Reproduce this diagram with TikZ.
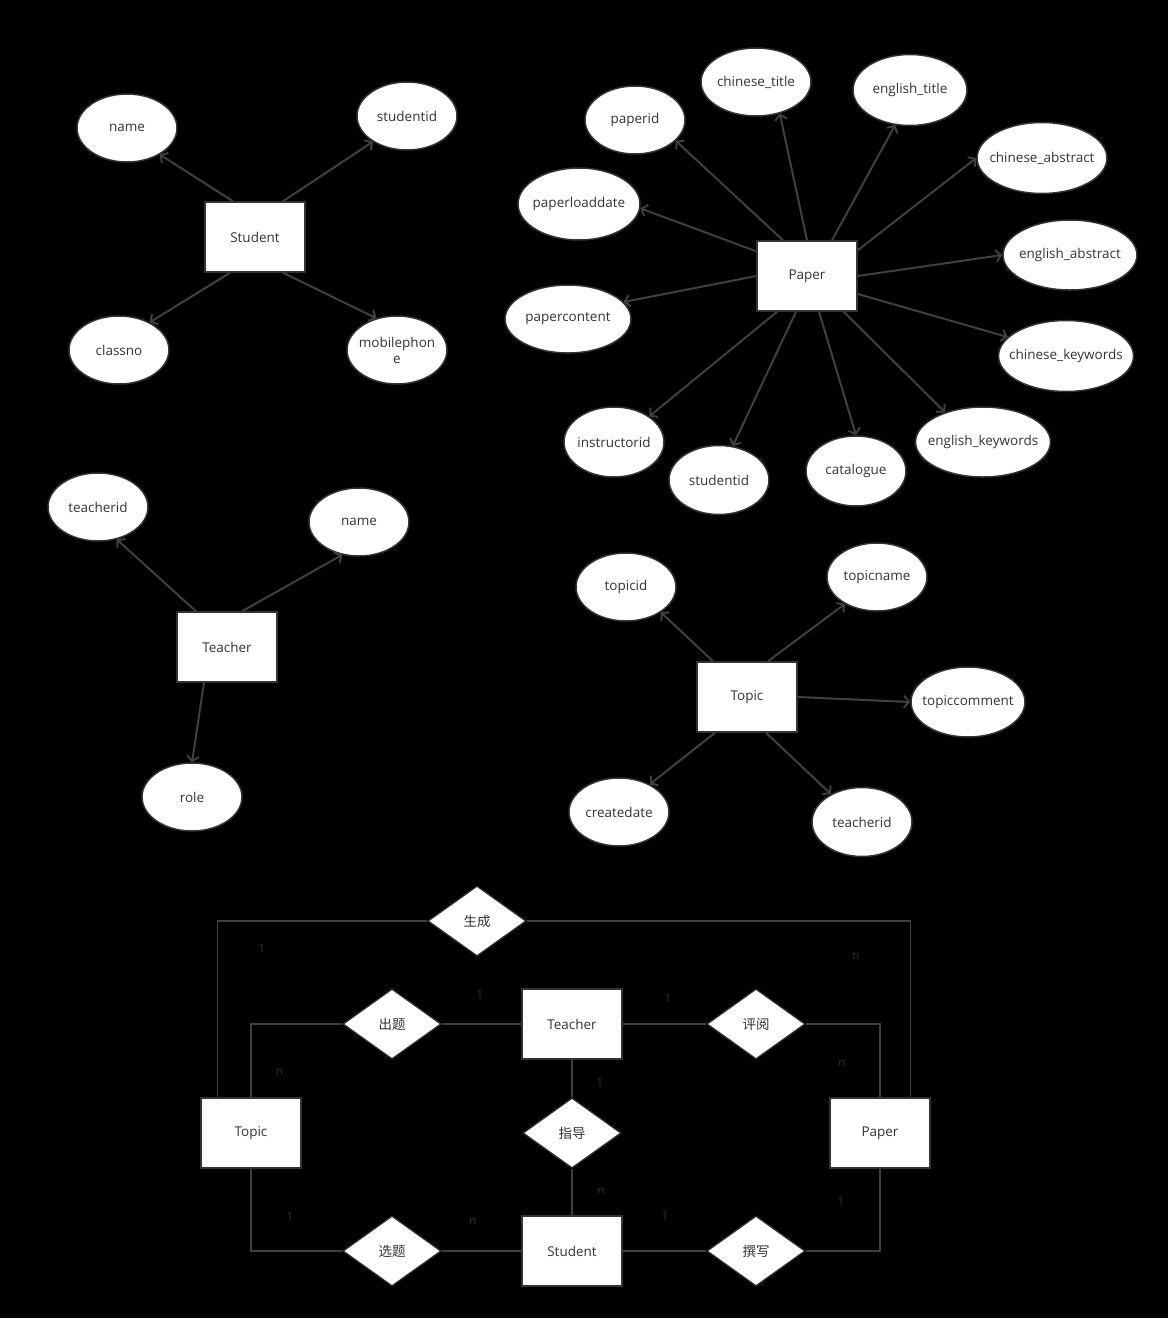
\documentclass[tikz,border=0pt]{standalone}
\usepackage{fontspec}
\setmainfont{Open Sans}
\newfontfamily\cjk{Noto Sans CJK SC}
\usetikzlibrary{shapes.geometric,arrows.meta,positioning}
\definecolor{edgegray}{HTML}{404040}
\definecolor{txtgray}{HTML}{333333}
\begin{document}
\begin{tikzpicture}[x=1pt,y=-1pt,
    ent/.style = {draw=txtgray, line width=1.5pt, fill=white, minimum width=100pt, minimum height=70pt, text=txtgray, font=\fontsize{13.5}{16}\selectfont},
    attr/.style = {ellipse, draw=txtgray, line width=1.5pt, fill=white, minimum width=100pt, minimum height=68pt, inner xsep=-30pt, inner ysep=0pt, align=center, text=txtgray, font=\fontsize{13.5}{16}\selectfont},
    rel/.style = {diamond, draw=txtgray, line width=1.2pt, fill=white, minimum width=98pt, minimum height=70pt, inner sep=0pt, text=txtgray, font=\cjk\fontsize{13.5}{16}\selectfont},
    arr/.style = {draw=edgegray, line width=2pt, -{Straight Barb[length=5pt,width=12pt]}},
    link/.style = {draw=edgegray, line width=1.2pt},
    card/.style = {text=txtgray, font=\fontsize{11.5}{13}\selectfont, inner sep=0pt}]
  \fill[black] (0,0) rectangle (1168,1318);
  \useasboundingbox (0,0) rectangle (1168,1318);

  % Student
  \node[ent] (S) at (255,237) {Student};
  \node[attr] (Sname) at (127,128) {name};
  \node[attr] (Sid) at (407,116) {studentid};
  \node[attr] (Scls) at (119,350) {classno};
  \node[attr] (Smob) at (397,350) {mobilephon\\e};
  \draw[arr] ([xshift=-22pt]S.north) -- (Sname.-39);
  \draw[arr] ([xshift=28pt]S.north) -- (Sid.-143);
  \draw[arr] ([xshift=-25pt]S.south) -- (Scls.42);
  \draw[arr] ([xshift=28pt]S.south) -- (Smob.123);

  % Paper
  \node[ent] (P) at (807,276) {Paper};
  \node[attr] (Pid) at (635,120) {paperid};
  \node[attr, minimum width=110pt] (Pct) at (756,82) {chinese\_title};
  \node[attr, minimum width=114pt, minimum height=71pt] (Pet) at (910,90) {english\_title};
  \node[attr, minimum width=130pt, minimum height=71pt] (Pca) at (1042,158) {chinese\_abstract};
  \node[attr, minimum width=134pt, minimum height=70pt] (Pea) at (1070,255) {english\_abstract};
  \node[attr, minimum width=135pt, minimum height=71pt] (Pck) at (1066,356) {chinese\_keywords};
  \node[attr, minimum width=135pt, minimum height=70pt] (Pek) at (983,442) {english\_keywords};
  \node[attr, minimum height=70pt] (Pcat) at (856,471) {catalogue};
  \node[attr, minimum height=69pt] (Psid) at (719,480) {studentid};
  \node[attr, minimum height=70pt] (Pins) at (614,442) {instructorid};
  \node[attr, minimum width=126pt] (Pcon) at (568,319) {papercontent};
  \node[attr, minimum width=122pt, minimum height=72pt] (Pload) at (579,204) {paperloaddate};
  \draw[arr] ([xshift=-24pt]P.north) -- (Pid.-27);
  \draw[arr] (P.north) -- (Pct.-53);
  \draw[arr] ([xshift=25pt]P.north) -- (Pet.-113);
  \draw[arr] ([yshift=-10pt]P.north east) -- (Pca.west);
  \draw[arr] (P.east) -- (Pea.west);
  \draw[arr] ([yshift=-18pt]P.east) -- (Pck.162);
  \draw[arr] ([xshift=-14pt]P.south east) -- (Pek.142);
  \draw[arr] ([xshift=12pt]P.south) -- (Pcat.north);
  \draw[arr] ([xshift=-11pt]P.south) -- (Psid.68);
  \draw[arr] ([xshift=-30pt]P.south) -- (Pins.36);
  \draw[arr] (P.west) -- (Pcon.17);
  \draw[arr] ([yshift=-11pt]P.north west) -- (Pload.-4);

  % Teacher
  \node[ent] (T) at (227,647) {Teacher};
  \node[attr] (Tid) at (98,507) {teacherid};
  \node[attr] (Tname) at (359,522) {name};
  \node[attr] (Trole) at (192,797) {role};
  \draw[arr] ([xshift=-31pt]T.north) -- (Tid.-60);
  \draw[arr] ([xshift=15pt]T.north) -- (Tname.-117);
  \draw[arr] ([xshift=-23pt]T.south) -- (Trole.north);

  % Topic
  \node[ent] (Tp) at (747,697) {Topic};
  \node[attr] (Tpid) at (626,587) {topicid};
  \node[attr] (Tpname) at (877,577) {topicname};
  \node[attr, minimum width=114pt, minimum height=70pt] (Tpcom) at (968,702) {topiccomment};
  \node[attr] (Tpdate) at (619,812) {createdate};
  \node[attr, minimum height=69pt] (Tptid) at (862,822) {teacherid};
  \draw[arr] ([xshift=-34pt]Tp.north) -- (Tpid.-36);
  \draw[arr] ([xshift=21pt]Tp.north) -- (Tpname.-140);
  \draw[arr] (Tp.east) -- (Tpcom.west);
  \draw[arr] ([xshift=-32pt]Tp.south) -- (Tpdate.42);
  \draw[arr] ([xshift=19pt]Tp.south) -- (Tptid.138);

  % relations
  \node[ent] (T2) at (572,1024) {Teacher};
  \node[ent] (S2) at (572,1251) {Student};
  \node[ent] (Tp2) at (251,1133) {Topic};
  \node[ent] (P2) at (880,1133) {Paper};
  \node[rel] (gen) at (477,921) {生成};
  \node[rel] (setq) at (392,1024) {出题};
  \node[rel] (rev) at (756,1024) {评阅};
  \node[rel] (guide) at (572,1133) {指导};
  \node[rel] (pick) at (392,1251) {选题};
  \node[rel] (write) at (756,1251) {撰写};

  \draw[link] ([xshift=17pt]Tp2.north west) |- (gen.west);
  \draw[link] (gen.east) -| ([xshift=-20pt]P2.north east);
  \draw[link] (Tp2.north) |- (setq.west);
  \draw[link] (setq.east) -- (T2.west);
  \draw[link] (T2.east) -- (rev.west);
  \draw[link] (rev.east) -| (P2.north);
  \draw[link] (T2.south) -- (guide.north);
  \draw[link] (guide.south) -- (S2.north);
  \draw[link] (Tp2.south) |- (pick.west);
  \draw[link] (pick.east) -- (S2.west);
  \draw[link] (S2.east) -- (write.west);
  \draw[link] (write.east) -| (P2.south);

  \node[card] (c1) at (262,948) {1};
  \node[card] (c2) at (856,956) {n};
  \node[card] (c3) at (480,994) {1};
  \node[card] (c4) at (668,998) {1};
  \node[card] (c5) at (280,1072) {n};
  \node[card] (c6) at (842,1063) {n};
  \node[card] (c7) at (600,1082) {1};
  \node[card] (c8) at (601,1191) {n};
  \node[card] (c9) at (290,1216) {1};
  \node[card] (c10) at (473,1221) {n};
  \node[card] (c11) at (665,1216) {1};
  \node[card] (c12) at (841,1201) {1};
\end{tikzpicture}
\end{document}
